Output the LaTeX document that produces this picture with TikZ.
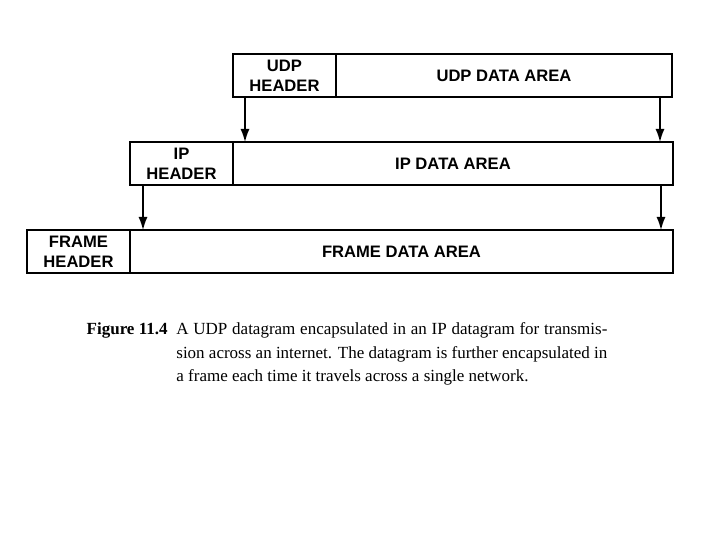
\documentclass[tikz,border=0pt]{standalone}
\usepackage{fontspec}
\setmainfont{Liberation Serif}
\newfontfamily\hdrfont{Liberation Sans}
\usetikzlibrary{positioning,arrows.meta}

\begin{document}
\begin{tikzpicture}[x=0.5pt, y=-0.5pt, node distance=22.5pt and 0pt]

    % styles for the fields and the caption
    \tikzset{
        hdrbox/.style={draw=black, line width=1.1pt, fill=white, outer sep=0pt, inner sep=0pt, minimum width=51.5pt, minimum height=21.5pt, align=center, font=\hdrfont\bfseries\fontsize{8.3}{9.8}\selectfont},
        databox/.style={hdrbox, minimum width=#1},
        arrow/.style={-{Latex[length=6.5pt,width=4.5pt]}, line width=0.7pt, black},
        figlabel/.style={font=\bfseries\fontsize{8.5}{11.75}\selectfont, inner sep=0pt},
        figtext/.style={font=\fontsize{8.5}{11.75}\selectfont, inner sep=0pt, text width=215.5pt, align=justify}
    }

    \useasboundingbox (0,0) rectangle (720,540);

    % UDP datagram
    \node[hdrbox, anchor=north west] (udphdr) at (233,54) {UDP\\HEADER};
    \node[databox=168pt, right=of udphdr] (udpdata) {UDP DATA AREA};

    % IP datagram
    \node[hdrbox, below left=of udphdr] (iphdr) {IP\\HEADER};
    \node[databox=220pt, right=of iphdr] (ipdata) {IP DATA AREA};

    % frame
    \node[hdrbox, below left=of iphdr] (framehdr) {FRAME\\HEADER};
    \node[databox=271.5pt, right=of framehdr] (framedata) {FRAME DATA AREA};

    % encapsulation arrows
    \coordinate (udpL) at ([xshift=6pt]udphdr.south west);
    \coordinate (udpR) at ([xshift=-6pt]udpdata.south east);
    \coordinate (ipL) at ([xshift=6.5pt]iphdr.south west);
    \coordinate (ipR) at ([xshift=-6pt]ipdata.south east);
    \draw[arrow] (udpL) -- (udpL |- ipdata.north);
    \draw[arrow] (udpR) -- (udpR |- ipdata.north);
    \draw[arrow] (ipL) -- (ipL |- framedata.north);
    \draw[arrow] (ipR) -- (ipR |- framedata.north);

    % caption
    \node[figlabel, anchor=base east] (figlbl) at (168,335) {Figure 11.4};
    \node[figtext, base right=4pt of figlbl] (captext) {A UDP datagram encapsulated in an IP datagram for transmis-\linebreak sion across an internet.  The datagram is further encapsulated in\linebreak a frame each time it travels across a single network.};

\end{tikzpicture}
\end{document}
